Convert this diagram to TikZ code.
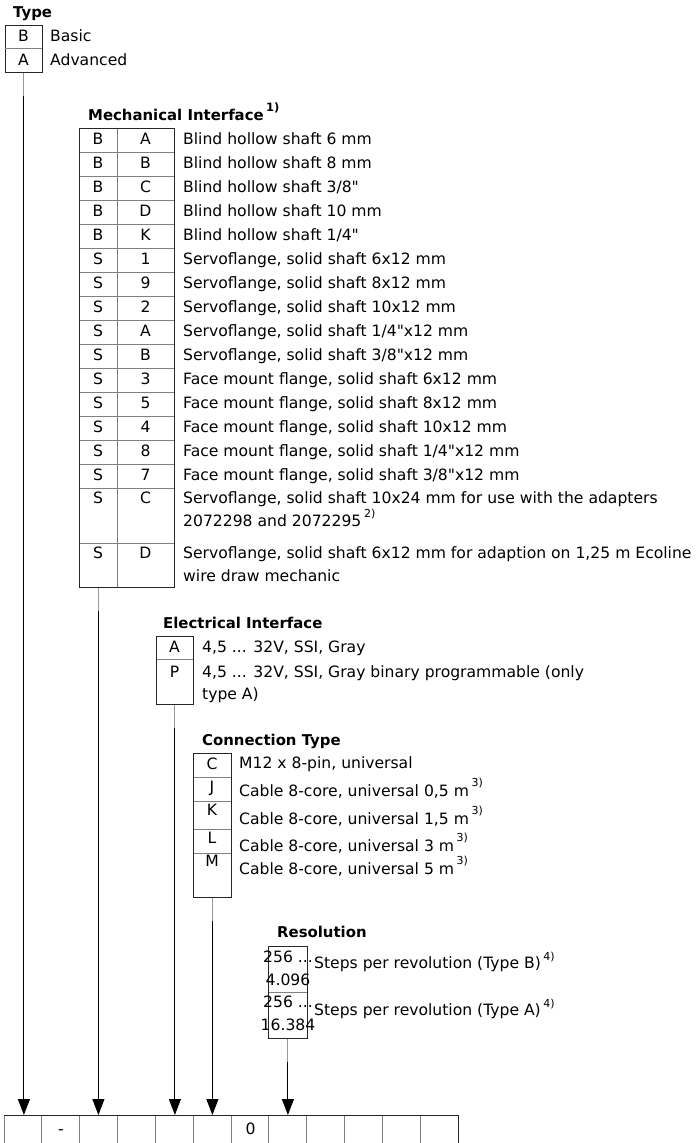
\documentclass[tikz,border=0pt]{standalone}
\usepackage{fontspec}
\setmainfont{DejaVu Sans}[Ligatures=TeXOff]
\usetikzlibrary{arrows.meta,calc}
\newcommand\bodyf{\fontsize{15.6}{18}\selectfont}
\newcommand\titlef{\fontsize{14.9}{18}\selectfont\bfseries}
\newcommand\supf{\fontsize{11}{12}\selectfont}
\newcommand\supr[2]{\,\raisebox{#1pt}{\supf #2}}
\begin{document}
\begin{tikzpicture}[x=1pt,y=-1pt,
  outer/.style={draw=black!85,line width=1pt},
  inner/.style={draw=black!50,line width=0.8pt},
  feed/.style={draw=black!40,line width=0.9pt},
  conn/.style={draw=black,line width=1.05pt,-{Triangle[length=16pt,width=12pt]}},
  txt/.style={anchor=base west,inner sep=0pt,font=\bodyf},
  ctr/.style={anchor=base,inner sep=0pt,font=\bodyf},
  ttl/.style={anchor=base west,inner sep=0pt,font=\titlef},
  blk/.style={inner,inner sep=0pt,anchor=north west},
  cell/.style={inner sep=0pt,minimum width=37.83pt,minimum height=30pt,anchor=north west},
]
\useasboundingbox (0,0) rectangle (696,1143);

% ---------------- Type ----------------
\node[ttl] (ttype) at (13,17) {Type};
\node[blk,minimum width=37pt,minimum height=47pt] (typebox) at (5,25) {};
\draw[outer] (5,25) rectangle (42,72);
\draw[inner] (5,48.5) -- (42,48.5);
\node[ctr] (tb) at (23.5,41.8) {B};
\node[ctr] (ta) at (23.5,65.5) {A};
\node[txt] (tbt) at (50,41.8) {Basic};
\node[txt] (tat) at (50,65.5) {Advanced};

% ---------------- Mechanical interface ----------------
\node[ttl] (tmech) at (88,120) {Mechanical Interface\,\raisebox{9pt}{\fontsize{11.5}{12}\selectfont\bfseries 1)}};
\node[blk,minimum width=38pt,minimum height=459pt] (mcol1) at (79,128) {};
\node[blk,minimum width=57pt,minimum height=459pt] (mcol2) at (117,128) {};
\foreach \i in {1,...,15} \draw[inner] (79,128+24*\i) -- (174,128+24*\i);
\draw[inner] (79,543) -- (174,543);
\draw[outer] (79,128) rectangle (174,587);
\foreach \a/\b/\t [count=\i from 0] in {
  B/A/{Blind hollow shaft 6 mm},
  B/B/{Blind hollow shaft 8 mm},
  B/C/{Blind hollow shaft 3/8"},
  B/D/{Blind hollow shaft 10 mm},
  B/K/{Blind hollow shaft 1/4"},
  S/1/{Servoflange, solid shaft 6x12 mm},
  S/9/{Servoflange, solid shaft 8x12 mm},
  S/2/{Servoflange, solid shaft 10x12 mm},
  S/A/{Servoflange, solid shaft 1/4"x12 mm},
  S/B/{Servoflange, solid shaft 3/8"x12 mm},
  S/3/{Face mount flange, solid shaft 6x12 mm},
  S/5/{Face mount flange, solid shaft 8x12 mm},
  S/4/{Face mount flange, solid shaft 10x12 mm},
  S/8/{Face mount flange, solid shaft 1/4"x12 mm},
  S/7/{Face mount flange, solid shaft 3/8"x12 mm}} {
  \node[ctr] (ma\i) at (98,{128+24*\i+16.7}) {\a};
  \node[ctr] (mb\i) at (145.5,{128+24*\i+16.7}) {\b};
  \node[txt] (mt\i) at (183,{128+24*\i+16.7}) {\t};
}
\node[ctr] (ma15) at (98,503.5) {S};
\node[ctr] (mb15) at (145.5,503.5) {C};
\node[txt] (mt15) at (183,503.5) {Servoflange, solid shaft 10x24 mm for use with the adapters};
\node[txt] (mu15) at (183,526) {2072298 and 2072295\supr{9}{2)}};
\node[ctr] (ma16) at (98,558.5) {S};
\node[ctr] (mb16) at (145.5,558.5) {D};
\node[txt] (mt16) at (183,558.5) {Servoflange, solid shaft 6x12 mm for adaption on 1,25 m Ecoline};
\node[txt] (mu16) at (183,581.5) {wire draw mechanic};

% ---------------- Electrical interface ----------------
\node[ttl] (telec) at (163,628) {Electrical Interface};
\node[blk,minimum width=37pt,minimum height=68pt] (ebox) at (156,636) {};
\draw[inner] (156,659) -- (193,659);
\draw[outer] (156,636) rectangle (193,704);
\node[ctr] (ea) at (174.5,652) {A};
\node[ctr] (ep) at (174.5,677) {P};
\node[txt] (eat) at (202,652) {4,5 ... 32V, SSI, Gray};
\node[txt] (ept) at (202,677) {4,5 ... 32V, SSI, Gray binary programmable (only};
\node[txt] (epu) at (202,699.5) {type A)};

% ---------------- Connection type ----------------
\node[ttl] (tconn) at (202,745) {Connection Type};
\node[blk,minimum width=38pt,minimum height=144pt] (cbox) at (193,753) {};
\foreach \yy in {777,801,829,853} \draw[inner] (193,\yy) -- (231,\yy);
\draw[outer] (193,753) rectangle (231,897);
\node[ctr] (cc) at (212,769.5) {C};
\node[ctr] (cj) at (212,792) {J};
\node[ctr] (ck) at (212,815) {K};
\node[ctr] (cl) at (212,843) {L};
\node[ctr] (cm) at (212,866) {M};
\node[txt] (cct) at (239,768) {M12 x 8-pin, universal};
\node[txt] (cjt) at (239,796) {Cable 8-core, universal 0,5 m\supr{9.5}{3)}};
\node[txt] (ckt) at (239,824) {Cable 8-core, universal 1,5 m\supr{9.5}{3)}};
\node[txt] (clt) at (239,851) {Cable 8-core, universal 3 m\supr{9.5}{3)}};
\node[txt] (cmt) at (239,874) {Cable 8-core, universal 5 m\supr{9.5}{3)}};

% ---------------- Resolution ----------------
\node[ttl] (tres) at (277,937) {Resolution};
\node[blk,minimum width=39pt,minimum height=92pt] (rbox) at (268,946) {};
\draw[inner] (268,992) -- (307,992);
\draw[outer] (268,946) rectangle (307,1038);
\node[ctr] (r1a) at (288,962) {256 ...};
\node[ctr] (r1b) at (288,985) {4.096};
\node[ctr] (r2a) at (288,1007) {256 ...};
\node[ctr] (r2b) at (288,1030) {16.384};
\node[txt] (r1t) at (314,968) {Steps per revolution (Type B)\supr{8}{4)}};
\node[txt] (r2t) at (314,1015) {Steps per revolution (Type A)\supr{8}{4)}};

% ---------------- Type code row ----------------
\foreach \k in {1,...,12} \node[cell] (c\k) at ({4+37.83*(\k-1)},1115) {};
\foreach \k in {0,...,11} \draw[inner] ({4+37.83*\k},1115) -- ({4+37.83*\k},1150);
\draw[outer] (4,1115) -- (458,1115) -- (458,1150);
\node[ctr] (cdash) at (61,1134.5) {-};
\node[ctr] (czero) at (250.5,1134.7) {0};

% ---------------- Connectors ----------------
\draw[feed] (typebox.south) -- ++(0,23) coordinate (k1);
\draw[conn] (k1) -- (k1 |- c1.north);
\draw[feed] (mcol1.south) -- ++(0,23) coordinate (k2);
\draw[conn] (k2) -- (k2 |- c3.north);
\draw[feed] (ebox.south) -- ++(0,23) coordinate (k3);
\draw[conn] (k3) -- (k3 |- c5.north);
\draw[feed] (cbox.south) -- ++(0,23) coordinate (k4);
\draw[conn] (k4) -- (k4 |- c6.north);
\draw[feed] (rbox.south) -- ++(0,23) coordinate (k5);
\draw[conn] (k5) -- (k5 |- c8.north);
\end{tikzpicture}
\end{document}
